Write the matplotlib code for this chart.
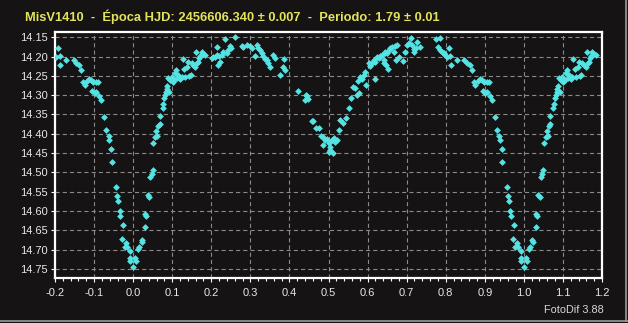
import matplotlib
matplotlib.use("Agg")
import matplotlib.pyplot as plt
from matplotlib.ticker import MultipleLocator, FormatStrFormatter
from matplotlib.lines import Line2D
import numpy as np

title_text = "MisV1410  -  Época HJD: 2456606.340 ± 0.007  -  Periodo: 1.79 ± 0.01"
footer_text = "FotoDif 3.88"

phase = [
    0.0000, 0.0043, 0.0068, 0.0128, 0.0154, 0.0214, 0.0239, 0.0299, 0.0299, 0.0325,
    0.0368, 0.0402, 0.0440, 0.0470, 0.0500, 0.0510, 0.0560, 0.0620, 0.0580, 0.0640,
    0.0680, 0.0680,
    0.0752, 0.0769, 0.0786, 0.0812, 0.0838, 0.0855, 0.0872, 0.0923, 0.0940, 0.0897,
    0.0983, 0.1009, 0.1043, 0.1068, 0.1094, 0.1128, 0.1154, 0.1197, 0.1239, 0.1299,
    0.1265, 0.1325, 0.1385, 0.1410, 0.1436, 0.1470, 0.1496, 0.1538, 0.1581, 0.1607,
    0.1641, 0.1667, 0.1692, 0.1709, 0.1752, 0.1795, 0.1838,
    0.2009, 0.2051, 0.2094, 0.2137, 0.2205, 0.2154, 0.2179, 0.2222, 0.2265, 0.2291,
    0.2350, 0.2393, 0.2436, 0.2479, 0.2496, 0.2607, 0.2778, 0.2821, 0.2923, 0.2991,
    0.3034, 0.3120, 0.3162, 0.3205, 0.3248, 0.3291, 0.3333, 0.3376, 0.3419, 0.3462,
    0.3504, 0.3590, 0.3632,
    0.3761, 0.3863, 0.3829, 0.3889, 0.4231, 0.4427, 0.4402, 0.4487, 0.4462, 0.4573,
    0.4615, 0.4684, 0.4769, 0.4803, 0.4872, 0.4855, 0.4915, 0.4974, 0.5000, 0.5026,
    0.5085, 0.5128, 0.5171, 0.5214, 0.5256, 0.5299, 0.5368, 0.5436, 0.5000, 0.5111,
    0.5043, 0.5521, 0.5573, 0.5624, 0.5684, 0.5726, 0.5769, 0.5744, 0.5812, 0.5855,
    0.5897, 0.5940, 0.5966, 0.6026, 0.6068, 0.6111, 0.6154, 0.6197, 0.6197, 0.6239,
    0.6282, 0.6325, 0.6368, 0.6410, 0.6436,
    0.6427, 0.6479, 0.6513, 0.6450, 0.6496, 0.6538, 0.6581, 0.6624, 0.6667, 0.6709,
    0.6752, 0.6735, 0.6795, 0.6906, 0.6966, 0.7009, 0.7051, 0.7111, 0.7137, 0.7179,
    0.7197, 0.7248, 0.7265, 0.7333, 0.7760, 0.7863, 0.7795, 0.7846, 0.7906, 0.7949,
    0.7991, 0.8034, 0.8077, 0.8120, 0.8137, 0.8291, 0.8479, 0.8547, 0.8615, 0.8675,
    0.8718, 0.8761, 0.8821, 0.8872, 0.8932, 0.8974, 0.9060, 0.9103, 0.8957, 0.9017,
    0.9060, 0.9128, 0.9188,
    0.9265, 0.9316, 0.9376, 0.9385, 0.9444, 0.9453, 0.9556, 0.9590, 0.9615, 0.9658,
    0.9675, 0.9744, 0.9727, 0.9829, 0.9786, 0.9855, 0.9932, 0.9915, 0.9932,
]
mag = [
    14.746, 14.723, 14.729, 14.698, 14.692, 14.674, 14.680, 14.641, 14.608, 14.614,
    14.559, 14.565, 14.512, 14.503, 14.494, 14.424, 14.409, 14.405, 14.394, 14.381,
    14.375, 14.353,
    14.334, 14.322, 14.308, 14.299, 14.291, 14.284, 14.276, 14.293, 14.260, 14.256,
    14.252, 14.265, 14.260, 14.243, 14.234, 14.256, 14.247, 14.259, 14.252, 14.233,
    14.207, 14.252, 14.226, 14.213, 14.250, 14.247, 14.217, 14.222, 14.226, 14.187,
    14.216, 14.213, 14.204, 14.198, 14.187, 14.193, 14.196,
    14.204, 14.200, 14.202, 14.196, 14.198, 14.174, 14.222, 14.213, 14.196, 14.187,
    14.155, 14.191, 14.183, 14.172, 14.178, 14.150, 14.172, 14.176, 14.170, 14.172,
    14.178, 14.198, 14.170, 14.178, 14.184, 14.191, 14.198, 14.207, 14.210, 14.216,
    14.226, 14.196, 14.204,
    14.247, 14.207, 14.228, 14.234, 14.289, 14.299, 14.312, 14.310, 14.303, 14.366,
    14.366, 14.384, 14.384, 14.405, 14.409, 14.428, 14.415, 14.414, 14.424, 14.434,
    14.415, 14.411, 14.420, 14.415, 14.390, 14.364, 14.372, 14.358, 14.448, 14.450,
    14.441, 14.332, 14.308, 14.279, 14.282, 14.299, 14.295, 14.262, 14.252, 14.259,
    14.247, 14.239, 14.273, 14.217, 14.224, 14.216, 14.210, 14.213, 14.259, 14.200,
    14.204, 14.198, 14.196, 14.209, 14.191,
    14.216, 14.222, 14.233, 14.187, 14.191, 14.183, 14.178, 14.174, 14.187, 14.172,
    14.170, 14.210, 14.200, 14.211, 14.187, 14.170, 14.166, 14.153, 14.170, 14.187,
    14.181, 14.178, 14.161, 14.176, 14.155, 14.153, 14.176, 14.183, 14.187, 14.190,
    14.196, 14.200, 14.178, 14.198, 14.222, 14.209, 14.209, 14.216, 14.222, 14.236,
    14.267, 14.273, 14.262, 14.259, 14.260, 14.267, 14.265, 14.267, 14.288, 14.295,
    14.291, 14.303, 14.312,
    14.357, 14.391, 14.405, 14.415, 14.440, 14.474, 14.537, 14.561, 14.573, 14.599,
    14.614, 14.636, 14.672, 14.682, 14.694, 14.692, 14.704, 14.723, 14.729,
]

x_ticks = [-0.2, -0.1, 0.0, 0.1, 0.2, 0.3, 0.4, 0.5, 0.6, 0.7, 0.8, 0.9, 1.0, 1.1, 1.2]
y_ticks = [14.15, 14.20, 14.25, 14.30, 14.35, 14.40, 14.45, 14.50, 14.55, 14.60,
           14.65, 14.70, 14.75]

plt.rcParams['font.family'] = ['Liberation Sans', 'DejaVu Sans']
plt.rcParams['lines.scale_dashes'] = False

BG = '#151313'
W, H = 628, 323
fig = plt.figure(figsize=(W / 100, H / 100), dpi=100, facecolor=BG)
ax = fig.add_axes([55 / W, 1 - 278 / H, 547 / W, 246 / H], facecolor=BG)

ph = np.array(phase)
mg = np.array(mag)
xs = np.concatenate([ph, ph[ph >= 0.8] - 1.0, ph[ph < 0.2] + 1.0])
ys = np.concatenate([mg, mg[ph >= 0.8], mg[ph < 0.2]])

ax.scatter(xs, ys, marker='D', s=12, color='#55e2e2', linewidths=0, zorder=3)

ax.set_xlim(-0.2, 1.2)
ax.set_ylim(14.7736, 14.1363)
ax.set_xticks(x_ticks)
ax.set_yticks(y_ticks)
ax.xaxis.set_minor_locator(MultipleLocator(0.02))
ax.xaxis.set_major_formatter(FormatStrFormatter('%.1f'))
ax.yaxis.set_major_formatter(FormatStrFormatter('%.2f'))

ax.grid(True, which='major', color='#8a8a8a', linestyle=(0, (3.0, 2.2)), linewidth=0.8)
ax.set_axisbelow(True)

for s in ax.spines.values():
    s.set_color('white')
    s.set_linewidth(1.6)

ax.tick_params(axis='both', which='major', colors='white', labelcolor='#e8e8e8',
               labelsize=8, length=3, width=0.8, direction='out')
ax.tick_params(axis='x', which='major', pad=4)
ax.tick_params(axis='y', which='major', pad=2)
ax.tick_params(axis='x', which='minor', colors='white', length=2, width=0.8, direction='out')

fig.text(25 / W, 1 - 17 / H, title_text, color='#e4e45c', fontsize=9.3,
         fontweight='bold', ha='left', va='center')
fig.text(604 / W, 1 - 310 / H, footer_text, color='#d8d8d8', fontsize=7.8,
         ha='right', va='center')

fig.add_artist(Line2D([0, 1], [2.5 / H, 2.5 / H], color='#9a9a9a', linewidth=1.2,
                      transform=fig.transFigure))
fig.add_artist(Line2D([1 - 2 / W, 1 - 2 / W], [2.5 / H, 1], color='#9a9a9a', linewidth=1.2,
                      transform=fig.transFigure))

fig.savefig('out.png', dpi=100, facecolor=BG)
